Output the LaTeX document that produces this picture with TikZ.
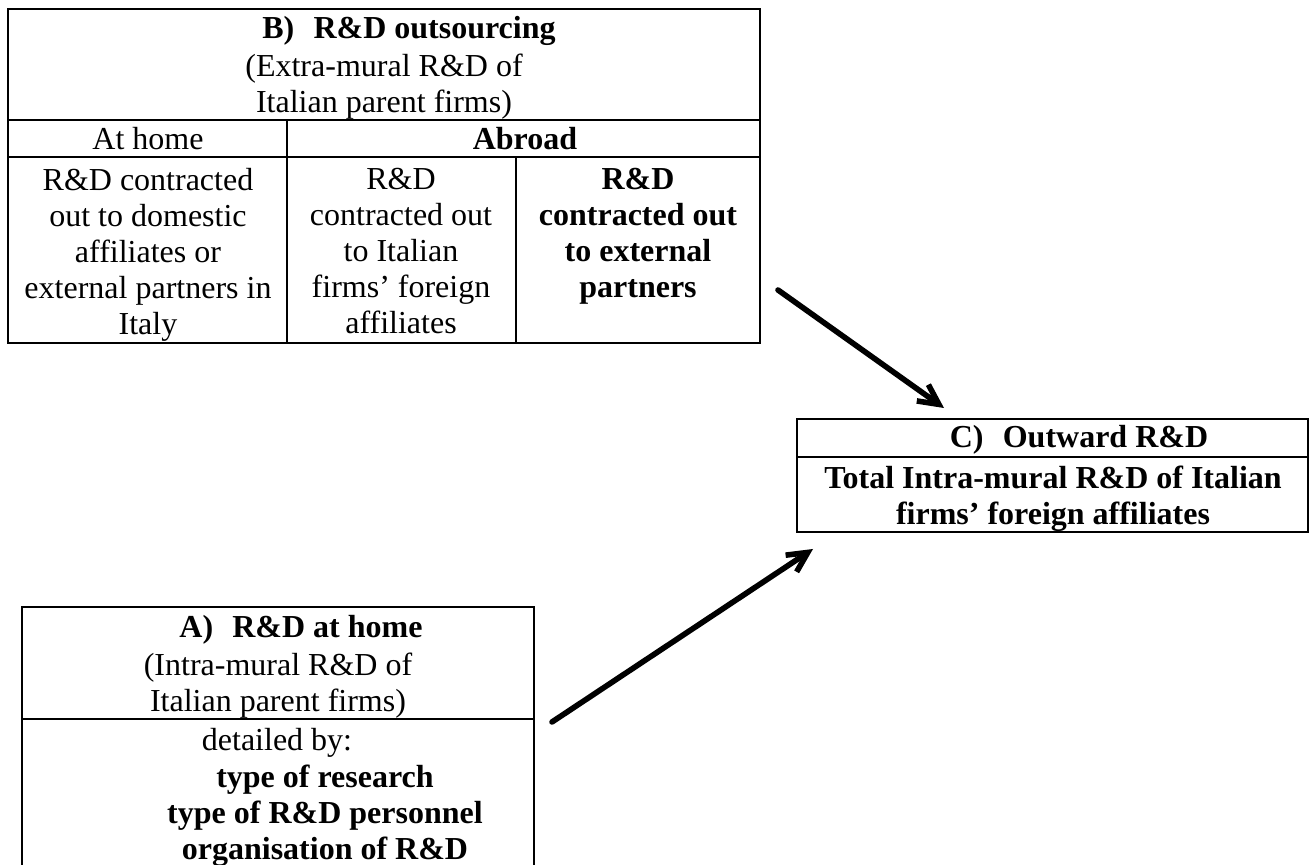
\documentclass[tikz,border=0pt]{standalone}
\usepackage{fontspec}
\setmainfont{Liberation Serif}
\usetikzlibrary{arrows.meta}
\begin{document}
\begin{tikzpicture}[x=0.5pt,y=-0.5pt,
  txt/.style={inner sep=0pt,align=center,font=\fontsize{16}{18}\selectfont},
  btxt/.style={inner sep=0pt,align=center,font=\fontsize{16}{18}\selectfont\bfseries},
  frame/.style={line width=1.2pt},
  arr/.style={line width=2.8pt,line cap=round,-{Straight Barb[length=10pt,width=10pt,line width=2.8pt]}}]
\useasboundingbox (0,0) rectangle (1312,865);
% Table B
\draw[frame] (8,9) rectangle (760,343);
\draw[frame] (8,120) -- (760,120);
\draw[frame] (8,157) -- (760,157);
\draw[frame] (287,120) -- (287,343);
\draw[frame] (516,157) -- (516,343);
\node[btxt,anchor=base] (Btitle) at (409,39) {B)\hspace{0.6em}R\&D outsourcing};
\node[txt,anchor=north] (Bsub) at (384,54) {(Extra-mural R\&D of\\Italian parent firms)};
\node[txt,anchor=base] (home) at (148,150) {At home};
\node[btxt,anchor=base] (abroad) at (525,150) {Abroad};
\node[txt,anchor=north] (c1) at (148,168) {R\&D contracted\\out to domestic\\affiliates or\\external partners in\\Italy};
\node[txt,anchor=north] (c2) at (401,168) {R\&D\\contracted out\\to Italian\\firms’ foreign\\affiliates};
\node[btxt,anchor=north] (c3) at (638,168) {R\&D\\contracted out\\to external\\partners};
% Box C
\draw[frame] (797,419) rectangle (1308,532);
\draw[frame] (797,457) -- (1308,457);
\node[btxt,anchor=base] (Ctitle) at (1079,448) {C)\hspace{0.6em}Outward R\&D};
\node[btxt,anchor=north] (Ctext) at (1053,466) {Total Intra-mural R\&D of Italian\\firms’ foreign affiliates};
% Box A
\draw[frame] (22,866) -- (22,607) -- (534,607) -- (534,866);
\draw[frame] (22,719) -- (534,719);
\node[btxt,anchor=base] (Atitle) at (301,638) {A)\hspace{0.6em}R\&D at home};
\node[txt,anchor=north] (Asub) at (278,653) {(Intra-mural R\&D of\\Italian parent firms)};
\node[txt,anchor=base] (Adet) at (277,750) {detailed by:};
\node[btxt,anchor=north] (Alist) at (325,765) {type of research\\type of R\&D personnel\\organisation of R\&D};
% arrows
\coordinate (bs) at (778,290);
\coordinate (cn) at (944,408);
\coordinate (as) at (552,722);
\coordinate (cw) at (813,549);
\draw[arr] (bs) -- (cn);
\draw[arr] (as) -- (cw);
\end{tikzpicture}
\end{document}
